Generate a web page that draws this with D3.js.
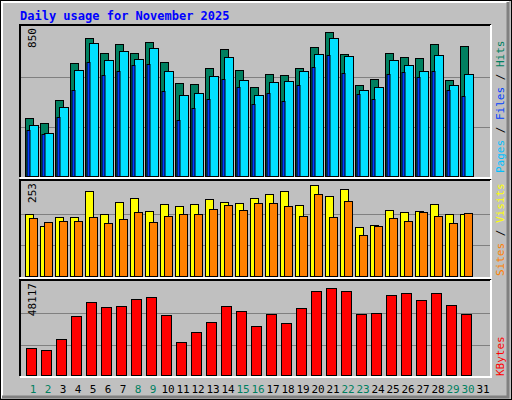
<!DOCTYPE html>
<html><head><meta charset="utf-8">
<script src="https://cdn.jsdelivr.net/npm/d3@7"></script>
<style>body{margin:0;background:#fff}</style></head>
<body><svg id="c" width="512" height="400"></svg>
<script>
const days = d3.range(1, 32);
const weekends = [1,2,8,9,15,16,22,23,29,30];
const hits  = [333,307,437,648,789,704,754,704,765,654,532,526,620,726,604,509,582,576,620,737,820,698,520,554,704,682,676,754,548,743,0];
const files = [292,252,398,609,759,665,715,670,731,598,465,476,570,682,548,465,537,543,598,698,789,683,493,509,665,637,598,693,520,582,0];
const pages = [267,241,339,494,650,578,600,633,639,489,322,389,444,556,511,415,478,433,522,622,689,589,472,444,582,594,567,598,493,461,0];
const visits= [168,136,160,160,228,168,200,210,176,194,189,194,207,200,197,210,221,228,192,244,215,234,134,139,178,173,176,194,168,168,0];
const sites = [157,147,149,149,160,144,155,173,147,163,168,168,181,192,178,197,197,189,163,221,160,202,113,136,157,149,173,163,144,170,0];
const kbytes= [14435,13450,18850,30640,38000,35550,36040,39480,40460,31130,17380,22290,27690,36040,33090,25730,31620,27200,35060,43400,44880,43400,31620,32110,41440,42420,38980,42420,36530,31620,0];
const maxTop = 850, maxMid = 253, maxBot = 48117;

const svg = d3.select("#c");
const font = "DejaVu Sans Mono, monospace";
svg.append("rect").attr("x",0.5).attr("y",0.5).attr("width",511).attr("height",399).attr("fill","#c0c0c0").attr("stroke","#000");
svg.append("path").attr("d","M2,398V2H509").attr("stroke","#fff").attr("fill","none").attr("stroke-width",2);
svg.append("path").attr("d","M2,397H508V2").attr("stroke","#808080").attr("fill","none").attr("stroke-width",3);
svg.append("text").attr("x",20).attr("y",20).attr("fill","#0000ff").attr("font-family",font)
  .attr("font-weight","bold").attr("font-size",12).text("Daily usage for November 2025");

const x = d3.scaleLinear().domain([1,31]).range([25,475]);
const L = 20, R = 491;
function panel(y0, y1, max, label){
  svg.append("rect").attr("x",L).attr("y",y0).attr("width",R-L).attr("height",y1-y0)
    .attr("fill","#c0c0c0").attr("stroke","none");
  svg.append("path").attr("d",`M${L},${y1}V${y0}H${R}`).attr("stroke","#000").attr("fill","none").attr("stroke-width",2);
  svg.append("path").attr("d",`M${L},${y1+1}H${R}V${y0}`).attr("stroke","#fff").attr("fill","none").attr("stroke-width",2);
  const y = d3.scaleLinear().domain([0,max]).range([y1, y0+2]);
  [max/3, 2*max/3].forEach(v=>svg.append("line").attr("x1",L+1).attr("x2",R-1)
     .attr("y1",Math.round(y(v))+0.5).attr("y2",Math.round(y(v))+0.5).attr("stroke","#808080"));
  svg.append("text").attr("transform",`translate(${L+16},${y0+3}) rotate(-90)`)
    .attr("text-anchor","end").attr("font-family",font).attr("font-size",11).text(label);
  return y;
}
function bars(data, y, dx, w, color){
  svg.append("g").selectAll("rect").data(data.map((v,i)=>({v,d:days[i]})).filter(o=>o.v>0)).join("rect")
    .attr("x",o=>x(o.d)+dx+0.5).attr("y",o=>Math.round(y(o.v))+0.5).attr("width",w)
    .attr("height",o=>y(0)-Math.round(y(o.v))-1).attr("fill",color).attr("stroke","#000");
}
const yT = panel(25,177,maxTop,String(maxTop));
bars(hits,yT,0,8,"#008060");
bars(files,yT,4,9,"#00e0ff");
bars(pages,yT,1.5,3,"#0040ff");
const yM = panel(180,277,maxMid,String(maxMid));
bars(visits,yM,0,8,"#ffff00");
bars(sites,yM,4,8,"#ff8000");
const yB = panel(280,376,maxBot,String(maxBot));
bars(kbytes,yB,1,10,"#ff0000");

svg.append("g").selectAll("text").data(days).join("text")
  .attr("x",d=>x(d)+8).attr("y",393).attr("text-anchor","middle").attr("font-family",font).attr("font-size",11)
  .attr("fill",d=>weekends.includes(d)?"#008060":"#000").text(d=>d);

function vlabel(yBottom, parts){
  const t = svg.append("text").attr("transform",`translate(504,${yBottom}) rotate(-90)`)
    .attr("font-family",font).attr("font-size",11);
  parts.forEach(p=>t.append("tspan").attr("fill",p[1]).text(p[0]));
}
vlabel(173,[["Pages","#00c0ff"],[" / ","#000"],["Files","#0040ff"],[" / ","#000"],["Hits","#008060"]]);
vlabel(276,[["Sites","#ff8000"],[" / ","#000"],["Visits","#ffff00"]]);
vlabel(376,[["KBytes","#ff0000"]]);
</script></body></html>
